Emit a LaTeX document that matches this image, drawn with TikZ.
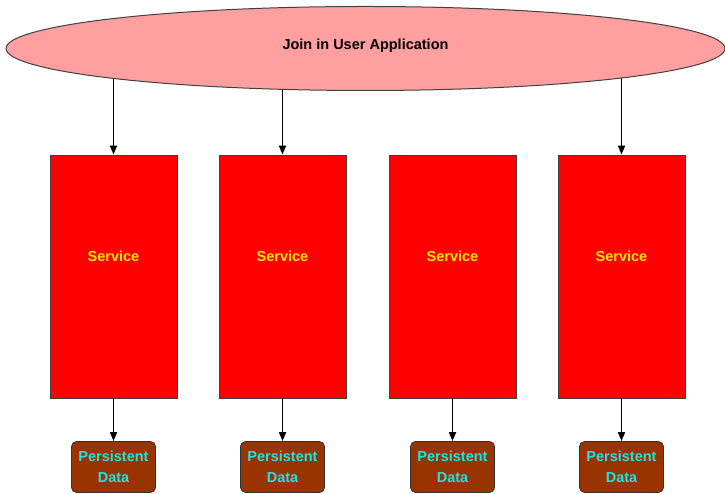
\documentclass[tikz,border=0pt]{standalone}
\usepackage{fontspec}
\setmainfont{Liberation Sans}
\usetikzlibrary{shapes.geometric,arrows.meta,backgrounds}
\definecolor{ellfill}{HTML}{FF9F9F}
\definecolor{svcfill}{HTML}{FF0000}
\definecolor{svctext}{HTML}{FFE600}
\definecolor{datafill}{HTML}{993300}
\definecolor{datatext}{HTML}{1AE6E6}
\definecolor{edge}{HTML}{404040}
\tikzset{
  joinell/.style={ellipse, draw=edge, line width=1pt, fill=ellfill, minimum width=719pt, minimum height=84pt, inner sep=0pt},
  svcbox/.style={draw=edge, line width=0.8pt, fill=svcfill, minimum width=127pt, minimum height=243pt, inner sep=0pt},
  svclabel/.style={text=svctext, font=\bfseries\fontsize{14.5}{17}\selectfont},
  databox/.style={draw=black!80, line width=0.8pt, fill=datafill, rounded corners=5pt, minimum width=84pt, minimum height=51pt, inner sep=0pt, text=datatext, align=center, font=\bfseries\fontsize{14.5}{21}\selectfont},
  conn/.style={line width=1.8pt, -{Triangle[width=7pt,length=9pt]}}
}
\begin{document}
\begin{tikzpicture}[x=1pt,y=1pt]
\useasboundingbox (0,0) rectangle (725,494);
\node[joinell] (app) at (365.5,445.5) {};
\node[font=\bfseries\fontsize{14.5}{17}\selectfont] (applabel) at (365.5,448) {Join in User Application};
\foreach \i/\x in {1/113.5,2/282.5,3/452.5,4/621.5}{
  \node[svcbox] (s\i) at (\x,217.5) {};
  \node[svclabel] (sl\i) at (\x,238) {Service};
  \node[databox] (d\i) at (\x,27) {Persistent\\Data};
  \draw[conn] (s\i.south) -- (d\i.north);
}
\begin{pgfonlayer}{background}
\draw[conn] (s1.north |- app.center) -- (s1.north);
\draw[conn] (s2.north |- app.center) -- (s2.north);
\draw[conn] (s4.north |- app.center) -- (s4.north);
\end{pgfonlayer}
\end{tikzpicture}
\end{document}
